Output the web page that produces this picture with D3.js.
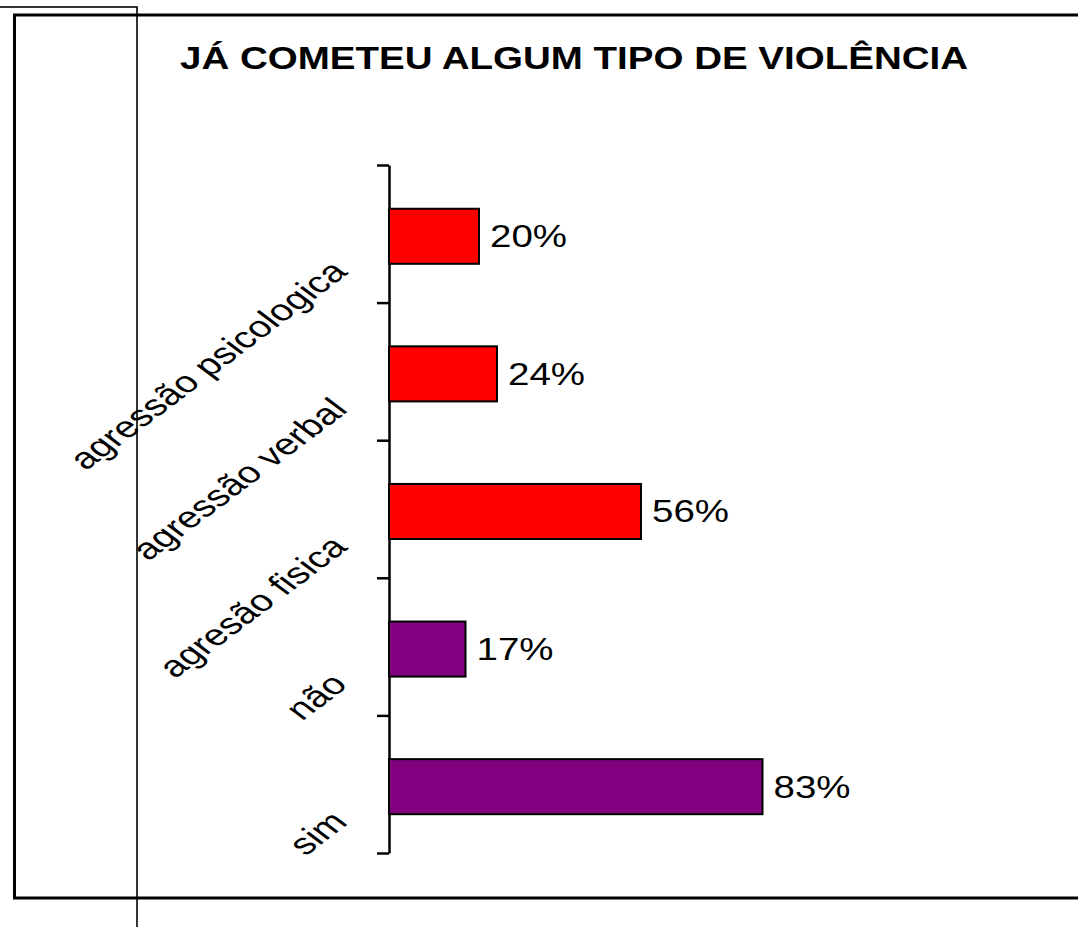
<!DOCTYPE html>
<html>
  <head>
    <meta charset="utf-8">
    <title>Já cometeu algum tipo de violência</title>
    <script type="text/javascript" src="https://cdn.jsdelivr.net/npm/d3@7/dist/d3.min.js"></script>
    <style>
      body { margin: 0; background: #fff; }
      text { font-family: "Liberation Sans", Arial, sans-serif; }
    </style>
  </head>
  <body>
    <svg width="1078" height="927" id="chart"></svg>
    <script type="text/javascript">
      // top to bottom, as in the chart
      var categories = ["agressão psicologica", "agressão verbal", "agresão fisica", "não", "sim"];
      var values = [20, 24, 56, 17, 83];
      var colors = ["#ff0000", "#ff0000", "#ff0000", "#800080", "#800080"];
      var title = "JÁ COMETEU ALGUM TIPO DE VIOLÊNCIA";

      var svg = d3.select("#chart");

      svg.append("rect")
        .attr("width", "100%").attr("height", "100%")
        .attr("fill", "white");

      // stray thin frame behind the chart
      svg.append("rect")
        .attr("x", -10).attr("y", 7)
        .attr("width", 147).attr("height", 940)
        .attr("fill", "none")
        .attr("stroke", "#000").attr("stroke-width", 1.6);

      // chart area border (runs off the right edge)
      svg.append("rect")
        .attr("x", 14.5).attr("y", 15)
        .attr("width", 1100).attr("height", 883)
        .attr("fill", "none")
        .attr("stroke", "#000").attr("stroke-width", 3);

      svg.append("text")
        .attr("x", 180).attr("y", 69)
        .attr("textLength", 788)
        .attr("lengthAdjust", "spacingAndGlyphs")
        .style("font-size", "32px")
        .style("font-weight", "bold")
        .text(title);

      var x = d3.scaleLinear().domain([0, 100]).range([389, 839]);
      var y = d3.scaleBand()
        .domain(categories)
        .range([165, 853])
        .paddingInner(0.6)
        .paddingOuter(0.3)
        .align(0.53);

      // ticks sit between the categories, like the original
      var yTicks = d3.scaleLinear().domain([0, categories.length]).range([165, 853]);
      var axis = svg.append("g")
        .attr("transform", "translate(" + x(0) + ",0)")
        .call(d3.axisLeft(yTicks)
          .ticks(categories.length)
          .tickSize(12)
          .tickSizeOuter(0)
          .tickFormat(""));
      axis.select(".domain").attr("stroke-width", 2.5);
      axis.selectAll(".tick line").attr("stroke-width", 2.5);

      svg.append("g")
        .selectAll("rect")
        .data(values)
        .enter().append("rect")
          .attr("x", x(0))
          .attr("y", function(d, i) { return y(categories[i]); })
          .attr("width", function(d) { return x(d) - x(0); })
          .attr("height", y.bandwidth())
          .attr("fill", function(d, i) { return colors[i]; })
          .attr("stroke", "#000")
          .attr("stroke-width", 2);

      svg.append("g")
        .selectAll("text")
        .data(values)
        .enter().append("text")
          .attr("x", function(d) { return x(d) + 11; })
          .attr("y", function(d, i) { return y(categories[i]) + y.bandwidth() / 2 + 11; })
          .attr("textLength", 77)
          .attr("lengthAdjust", "spacingAndGlyphs")
          .style("font-size", "31px")
          .text(function(d) { return d + "%"; });

      // the original picture is stretched sideways, so the 45° labels come out flatter
      svg.append("g")
        .selectAll("text")
        .data(categories)
        .enter().append("text")
          .attr("transform", function(d) {
            var cy = y(d) + y.bandwidth() / 2 + 37;
            return "translate(349," + cy + ") scale(1.33,1) rotate(-45)";
          })
          .attr("text-anchor", "end")
          .style("font-size", "30px")
          .text(function(d) { return d; });
    </script>
  </body>
</html>
